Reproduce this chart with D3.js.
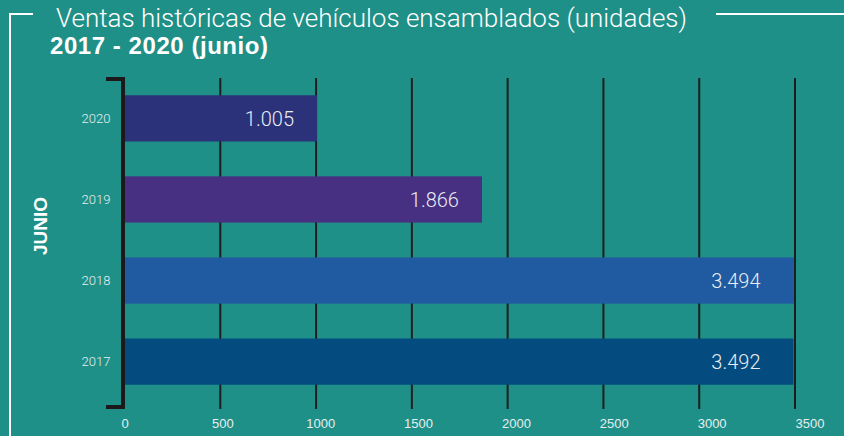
<!DOCTYPE html>
<html lang="es">
<head>
<meta charset="UTF-8">
<script src="https://d3js.org/d3.v7.min.js"></script>
<style>
  body { margin: 0; background: #1f9087; }
  svg { display: block; }
</style>
</head>
<body>
<div id="plot"></div>
<script>
// data
const years = ["2020", "2019", "2018", "2017"];
const ventas = [1005, 1866, 3494, 3492];
const barColors = ["#2b327a", "#472f82", "#205aa0", "#044c80"];
const xTicks = [0, 500, 1000, 1500, 2000, 2500, 3000, 3500];

const width = 844, height = 436;
const fmt = d3.format(",");

const svg = d3.select("#plot").append("svg")
    .attr("width", width)
    .attr("height", height);

svg.append("rect")
    .attr("width", width).attr("height", height)
    .attr("fill", "#1f9087");

// frame
svg.append("path")
    .attr("d", "M10,436 V14 H33 M716,14 H844")
    .attr("fill", "none")
    .attr("stroke", "#fff")
    .attr("stroke-width", 2);

// titles
svg.append("text")
    .attr("x", 56).attr("y", 27)
    .attr("fill", "#fff")
    .attr("font-family", "Roboto, 'Liberation Sans', sans-serif")
    .attr("font-weight", 300)
    .attr("font-size", 26)
    .attr("textLength", 631)
    .text("Ventas históricas de vehículos ensamblados (unidades)");

svg.append("text")
    .attr("x", 50).attr("y", 54)
    .attr("fill", "#fff")
    .attr("font-family", "'Liberation Sans', Arial, sans-serif")
    .attr("font-weight", "bold")
    .attr("font-size", 24)
    .attr("textLength", 218)
    .text("2017 - 2020 (junio)");

// scales
const x = d3.scaleLinear().domain([0, 3500]).range([124.5, 795]);
const xLabel = d3.scaleLinear().domain([0, 3500]).range([125, 810]);
const y = d3.scaleBand().domain(years).range([75, 405]).paddingInner(0.43).paddingOuter(0.25);

// grid lines
svg.append("g")
  .selectAll("line")
  .data(xTicks.slice(1))
  .join("line")
    .attr("x1", d => x(d)).attr("x2", d => x(d))
    .attr("y1", 78).attr("y2", 409)
    .attr("stroke", "#1e1e1e")
    .attr("stroke-width", 2);

// bars
svg.append("g")
  .selectAll("rect")
  .data(years)
  .join("rect")
    .attr("x", x(0))
    .attr("y", d => y(d))
    .attr("width", (d, i) => x(ventas[i]) - x(0))
    .attr("height", y.bandwidth())
    .attr("fill", (d, i) => barColors[i]);

// value labels
svg.append("g")
  .selectAll("text")
  .data(years)
  .join("text")
    .attr("x", (d, i) => Math.min(x(ventas[i]) - 23, x(3320)))
    .attr("y", d => y(d) + y.bandwidth() / 2)
    .attr("dy", "0.36em")
    .attr("text-anchor", "end")
    .attr("fill", "#e8edf2")
    .attr("font-family", "Roboto, 'Liberation Sans', sans-serif")
    .attr("font-weight", 300)
    .attr("font-size", 20)
    .text((d, i) => fmt(ventas[i]).replace(",", "."));

// bracket axis
svg.append("path")
    .attr("d", "M106,79 H123 V407 H106")
    .attr("fill", "none")
    .attr("stroke", "#1a1a1a")
    .attr("stroke-width", 4);

// year labels
svg.append("g")
  .selectAll("text")
  .data(years)
  .join("text")
    .attr("x", 96)
    .attr("y", d => y(d) + y.bandwidth() / 2)
    .attr("dy", "0.35em")
    .attr("text-anchor", "middle")
    .attr("fill", "#e6eef0")
    .attr("font-family", "Roboto, 'Liberation Sans', sans-serif")
    .attr("font-weight", 300)
    .attr("font-size", 13)
    .text(d => d);

// x tick labels
svg.append("g")
  .selectAll("text")
  .data(xTicks)
  .join("text")
    .attr("x", d => xLabel(d))
    .attr("y", 428)
    .attr("text-anchor", "middle")
    .attr("fill", "#e6eef0")
    .attr("font-family", "'Liberation Sans Narrow', 'Liberation Sans', sans-serif")
    .attr("font-size", 13)
    .text(d => d);

// axis title
svg.append("text")
    .attr("transform", "translate(47,226) rotate(-90)")
    .attr("text-anchor", "middle")
    .attr("fill", "#fff")
    .attr("font-family", "'Liberation Sans Narrow', 'Liberation Sans', sans-serif")
    .attr("font-weight", "bold")
    .attr("font-size", 19)
    .text("JUNIO");
</script>
</body>
</html>
